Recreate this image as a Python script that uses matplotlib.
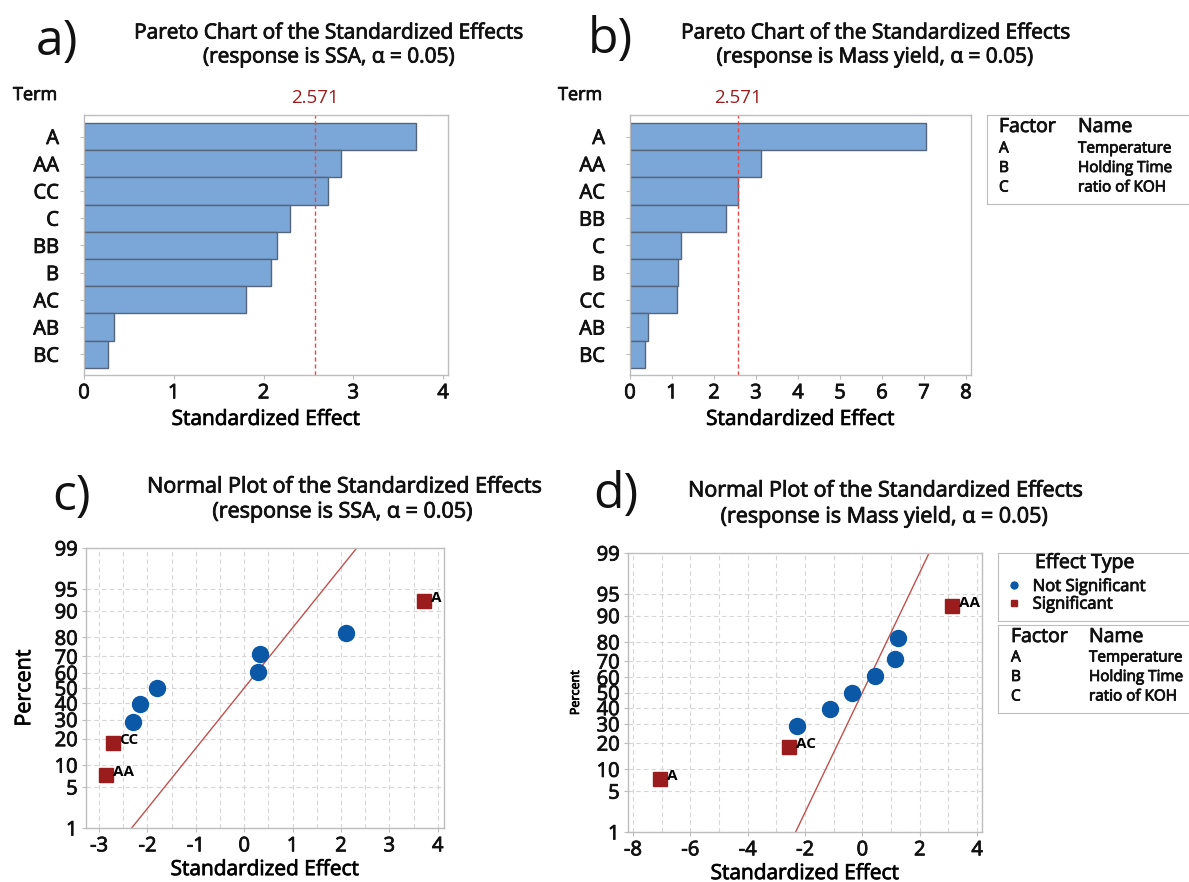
import numpy as np
import matplotlib
matplotlib.use("Agg")
import matplotlib.pyplot as plt
import matplotlib.patheffects as pe
from matplotlib.lines import Line2D
from matplotlib.ticker import MultipleLocator, NullLocator
from statistics import NormalDist

W, H = 1189, 882

# pareto a (SSA)
terms_a = ["A", "AA", "CC", "C", "BB", "B", "AC", "AB", "BC"]
effects_a = [3.70, 2.86, 2.72, 2.29, 2.15, 2.08, 1.81, 0.33, 0.27]
# pareto b (mass yield)
terms_b = ["A", "AA", "AC", "BB", "C", "B", "CC", "AB", "BC"]
effects_b = [7.06, 3.12, 2.56, 2.29, 1.22, 1.15, 1.13, 0.43, 0.36]
t_crit = 2.571

# normal plots
normal_pct = [7.4, 18.1, 28.7, 39.4, 50.0, 60.6, 71.3, 81.9, 92.6]
effects_c = [-2.85, -2.72, -2.30, -2.15, -1.80, 0.28, 0.32, 2.10, 3.72]
signif_c = [True, True, False, False, False, False, False, False, True]
labels_c = ["AA", "CC", "", "", "", "", "", "", "A"]
effects_d = [-7.05, -2.57, -2.28, -1.13, -0.36, 0.43, 1.13, 1.25, 3.13]
signif_d = [True, True, False, False, False, False, False, False, True]
labels_d = ["A", "AC", "", "", "", "", "", "", "AA"]
pct_ticks = [1, 5, 10, 20, 30, 40, 50, 60, 70, 80, 90, 95, 99]

factors = ["A", "B", "C"]
factor_names = ["Temperature", "Holding Time", "ratio of KOH"]

plt.rcParams['font.family'] = ['Open Sans', 'DejaVu Sans']
plt.rcParams['text.color'] = '#111111'
plt.rcParams['xtick.color'] = '#bdbdbd'
plt.rcParams['ytick.color'] = '#bdbdbd'
plt.rcParams['xtick.labelcolor'] = '#111111'
plt.rcParams['ytick.labelcolor'] = '#111111'

BAR = '#7ba6d8'
BAR_EDGE = '#56657a'
SPINE = '#bdbdbd'
GRID = '#d6d6d6'
DARK_RED = '#9b1c1c'
BLUE = '#0a58a6'
REF_RED = '#c0504d'
# slightly heavier strokes, the source text looks medium weight
HEAVY = [pe.withStroke(linewidth=0.6, foreground='#111111')]

fig = plt.figure(figsize=(W / 100, H / 100), dpi=100)


def px_box(left, top, right, bottom):
    return [left / W, 1 - bottom / H, (right - left) / W, (bottom - top) / H]


def ftext(x, y, s, heavy=True, **kw):
    t = fig.text(x / W, 1 - y / H, s, **kw)
    if heavy:
        t.set_path_effects(HEAVY)
    return t


def panel_tag(x, y, tag):
    ftext(x, y, tag, heavy=False, fontsize=36, va='baseline', ha='left')


def style_axes(ax):
    for s in ax.spines.values():
        s.set_color(SPINE)
        s.set_linewidth(1)
    for t in ax.get_xticklabels() + ax.get_yticklabels():
        t.set_path_effects(HEAVY)
    ax.xaxis.label.set_path_effects(HEAVY)
    ax.yaxis.label.set_path_effects(HEAVY)


def pareto(ax, terms, effects, xmax, xticks, term_x):
    y = np.arange(len(terms))
    ax.barh(y, effects, height=1.0, color=BAR, edgecolor=BAR_EDGE, linewidth=1)
    ax.set_yticks(y, terms)
    ax.set_ylim(len(terms) - 0.24, -0.79)
    ax.set_xlim(0, xmax)
    ax.set_xticks(xticks, [str(t) for t in xticks])
    ax.axvline(t_crit, color='#e8474a', ls=(0, (3, 2)), lw=1)
    ax.text(t_crit, 1.03, f'{t_crit}', transform=ax.get_xaxis_transform(),
            ha='center', va='bottom', color=DARK_RED, fontsize=13.5)
    ftext(term_x, 95, 'Term', fontsize=13, va='center')
    ax.set_xlabel('Standardized Effect', fontsize=15, labelpad=4)
    ax.tick_params(axis='y', length=3, pad=15, labelsize=14.5)
    ax.tick_params(axis='x', length=3, pad=3, labelsize=14.5)
    style_axes(ax)


nd = NormalDist()
_ppf = np.vectorize(nd.inv_cdf, otypes=[float])
_cdf = np.vectorize(nd.cdf, otypes=[float])


def prob_fwd(p):
    p = np.clip(np.asarray(p, float), 0.001, 99.999)
    return _ppf(p / 100)


def prob_inv(z):
    return _cdf(np.asarray(z, float)) * 100


def normal_plot(ax, effects, signif, labels, xlim, xticks, xminor, ylab_size, ylab_x):
    ax.set_yscale('function', functions=(prob_fwd, prob_inv))
    ax.set_ylim(1, 99)
    ax.set_xlim(*xlim)
    ax.set_yticks(pct_ticks, [str(t) for t in pct_ticks])
    ax.yaxis.set_minor_locator(NullLocator())
    ax.set_xticks(xticks, [str(t) for t in xticks])
    ax.xaxis.set_minor_locator(MultipleLocator(xminor))
    ax.grid(True, which='both', color=GRID, ls=(0, (4, 3)), lw=0.8)
    ax.set_axisbelow(True)
    # reference line: effect = z
    ref_pct = [0.5, 99.5]
    ref_x = [nd.inv_cdf(p / 100) for p in ref_pct]
    ax.plot(ref_x, ref_pct, color=REF_RED, lw=1)
    eff = np.array(effects)
    pct = np.array(normal_pct)
    sig = np.array(signif)
    ax.plot(eff[~sig], pct[~sig], 'o', color=BLUE, markersize=11.5, ls='')
    ax.plot(eff[sig], pct[sig], 's', color=DARK_RED, markersize=9.5, ls='')
    for x, p, lbl in zip(effects, normal_pct, labels):
        if lbl:
            ax.annotate(lbl, (x, p), xytext=(5, 2), textcoords='offset points',
                        fontsize=11, fontweight='bold', va='center', color='black')
    ax.tick_params(which='major', length=3, labelsize=14.5, pad=3)
    ax.tick_params(which='minor', length=0)
    ax.set_xlabel('Standardized Effect', fontsize=15, labelpad=2)
    ax.set_ylabel('Percent', fontsize=ylab_size)
    ax.yaxis.set_label_coords(ylab_x, 0.5)
    style_axes(ax)


# a)
ax_a = fig.add_axes(px_box(84, 115, 448, 375))
pareto(ax_a, terms_a, effects_a, 4.055, [0, 1, 2, 3, 4], 13)
ftext(329, 33, 'Pareto Chart of the Standardized Effects', ha='center', va='center', fontsize=15)
ftext(329, 57, '(response is SSA, α = 0.05)', ha='center', va='center', fontsize=15)
panel_tag(36, 55, 'a)')

# b)
ax_b = fig.add_axes(px_box(630, 115, 971, 375))
pareto(ax_b, terms_b, effects_b, 8.12, list(range(9)), 558)
ftext(876, 33, 'Pareto Chart of the Standardized Effects', ha='center', va='center', fontsize=15)
ftext(875, 57, '(response is Mass yield, α = 0.05)', ha='center', va='center', fontsize=15)
panel_tag(588, 53, 'b)')


def factor_box(left, top, bottom, hx, head_y, row_y0, row_dy):
    box = fig.add_axes(px_box(left, top, W + 20, bottom))
    box.set_xticks([])
    box.set_yticks([])
    for s in box.spines.values():
        s.set_color(SPINE)
    ftext(hx[0], head_y, 'Factor', fontsize=14, va='center')
    ftext(hx[1], head_y, 'Name', fontsize=14, va='center')
    for i, (f, n) in enumerate(zip(factors, factor_names)):
        ftext(hx[0], row_y0 + i * row_dy, f, fontsize=11, va='center')
        ftext(hx[1], row_y0 + i * row_dy, n, fontsize=11, va='center')


factor_box(987, 115, 204, (999, 1078), 127, 149, 19.5)

# c)
ax_c = fig.add_axes(px_box(86, 548, 444, 828))
normal_plot(ax_c, effects_c, signif_c, labels_c, (-3.27, 4.13), list(range(-3, 5)), 0.5, 15.5, -0.142)
ftext(345, 487, 'Normal Plot of the Standardized Effects', ha='center', va='center', fontsize=15.5)
ftext(343, 512, '(response is SSA, α = 0.05)', ha='center', va='center', fontsize=15.5)
panel_tag(52, 510, 'c)')

# d)
ax_d = fig.add_axes(px_box(628, 553, 982, 832))
normal_plot(ax_d, effects_d, signif_d, labels_d, (-8.17, 4.17), list(range(-8, 5, 2)), 1, 9, -0.13)
ftext(886, 491, 'Normal Plot of the Standardized Effects', ha='center', va='center', fontsize=15.5)
ftext(885, 517, '(response is Mass yield, α = 0.05)', ha='center', va='center', fontsize=15.5)
panel_tag(593, 508, 'd)')

# effect type legend
leg_box = fig.add_axes(px_box(998, 553, W + 20, 621))
leg_box.set_xticks([])
leg_box.set_yticks([])
for s in leg_box.spines.values():
    s.set_color(SPINE)
ftext(1035, 563, 'Effect Type', fontsize=14, va='center')
handles = [Line2D([], [], marker='o', color=BLUE, ls='', markersize=5),
           Line2D([], [], marker='s', color=DARK_RED, ls='', markersize=5)]
leg = leg_box.legend(handles, ['Not Significant', 'Significant'], loc='upper left',
                     bbox_to_anchor=(1006 / W, 1 - 579 / H), bbox_transform=fig.transFigure,
                     frameon=False, fontsize=12, handlelength=1, handletextpad=0.6,
                     labelspacing=0.1, borderpad=0, borderaxespad=0)
for t in leg.get_texts():
    t.set_path_effects(HEAVY)

factor_box(998, 625, 713, (1011, 1089), 637, 658, 19.5)

fig.savefig('out.png', dpi=100)
